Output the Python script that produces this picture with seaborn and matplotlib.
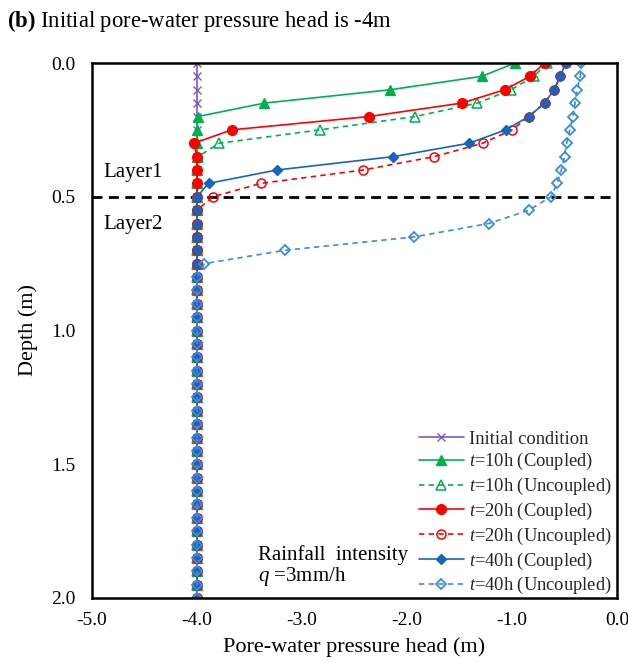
import matplotlib
matplotlib.use("Agg")
import matplotlib.pyplot as plt
import seaborn as sns

sns.set_theme(style="white")
plt.rcParams['font.family'] = ['Liberation Serif', 'DejaVu Serif']
plt.rcParams['mathtext.fontset'] = 'custom'
plt.rcParams['mathtext.rm'] = 'Liberation Serif'
plt.rcParams['mathtext.it'] = 'Liberation Serif:italic'
plt.rcParams['mathtext.bf'] = 'Liberation Serif:bold'

depth = [0.00, 0.05, 0.10, 0.15, 0.20, 0.25, 0.30, 0.35, 0.40, 0.45,
         0.50, 0.55, 0.60, 0.65, 0.70, 0.75, 0.80, 0.85, 0.90, 0.95,
         1.00, 1.05, 1.10, 1.15, 1.20, 1.25, 1.30, 1.35, 1.40, 1.45,
         1.50, 1.55, 1.60, 1.65, 1.70, 1.75, 1.80, 1.85, 1.90, 1.95, 2.00]

initial = [
    -4.0, -4.0, -4.0, -4.0, -4.0, -4.0, -4.0, -4.0, -4.0, -4.0,
    -4.0, -4.0, -4.0, -4.0, -4.0, -4.0, -4.0, -4.0, -4.0, -4.0,
    -4.0, -4.0, -4.0, -4.0, -4.0, -4.0, -4.0, -4.0, -4.0, -4.0,
    -4.0, -4.0, -4.0, -4.0, -4.0, -4.0, -4.0, -4.0, -4.0, -4.0, -4.0]

t10_coupled = [
    -0.97, -1.29, -2.16, -3.36, -3.99, -4.0, -4.0, -4.0, -4.0, -4.0,
    -4.0, -4.0, -4.0, -4.0, -4.0, -4.0, -4.0, -4.0, -4.0, -4.0,
    -4.0, -4.0, -4.0, -4.0, -4.0, -4.0, -4.0, -4.0, -4.0, -4.0,
    -4.0, -4.0, -4.0, -4.0, -4.0, -4.0, -4.0, -4.0, -4.0, -4.0, -4.0]

t10_uncoupled = [
    -0.67, -0.79, -1.01, -1.33, -1.92, -2.83, -3.79, -3.99, -4.0, -4.0,
    -4.0, -4.0, -4.0, -4.0, -4.0, -4.0, -4.0, -4.0, -4.0, -4.0,
    -4.0, -4.0, -4.0, -4.0, -4.0, -4.0, -4.0, -4.0, -4.0, -4.0,
    -4.0, -4.0, -4.0, -4.0, -4.0, -4.0, -4.0, -4.0, -4.0, -4.0, -4.0]

t20_coupled = [
    -0.69, -0.83, -1.07, -1.48, -2.36, -3.67, -4.03, -4.0, -4.0, -4.0,
    -4.0, -4.0, -4.0, -4.0, -4.0, -4.0, -4.0, -4.0, -4.0, -4.0,
    -4.0, -4.0, -4.0, -4.0, -4.0, -4.0, -4.0, -4.0, -4.0, -4.0,
    -4.0, -4.0, -4.0, -4.0, -4.0, -4.0, -4.0, -4.0, -4.0, -4.0, -4.0]

t20_uncoupled = [
    -0.49, -0.54, -0.60, -0.69, -0.84, -1.00, -1.28, -1.74, -2.42, -3.39,
    -3.85, -4.0, -4.0, -4.0, -4.0, -4.0, -4.0, -4.0, -4.0, -4.0,
    -4.0, -4.0, -4.0, -4.0, -4.0, -4.0, -4.0, -4.0, -4.0, -4.0,
    -4.0, -4.0, -4.0, -4.0, -4.0, -4.0, -4.0, -4.0, -4.0, -4.0, -4.0]

t40_coupled = [
    -0.49, -0.54, -0.60, -0.69, -0.84, -1.06, -1.41, -2.13, -3.24, -3.89,
    -4.0, -4.0, -4.0, -4.0, -4.0, -4.0, -4.0, -4.0, -4.0, -4.0,
    -4.0, -4.0, -4.0, -4.0, -4.0, -4.0, -4.0, -4.0, -4.0, -4.0,
    -4.0, -4.0, -4.0, -4.0, -4.0, -4.0, -4.0, -4.0, -4.0, -4.0, -4.0]

t40_uncoupled = [
    -0.34, -0.35, -0.38, -0.40, -0.42, -0.45, -0.48, -0.50, -0.53, -0.57,
    -0.63, -0.84, -1.22, -1.93, -3.16, -3.93, -4.0, -4.0, -4.0, -4.0,
    -4.0, -4.0, -4.0, -4.0, -4.0, -4.0, -4.0, -4.0, -4.0, -4.0,
    -4.0, -4.0, -4.0, -4.0, -4.0, -4.0, -4.0, -4.0, -4.0, -4.0, -4.0]

labels = ["Initial condition",
          "$t$=10h (Coupled)", "$t$=10h (Uncoupled)",
          "$t$=20h (Coupled)", "$t$=20h (Uncoupled)",
          "$t$=40h (Coupled)", "$t$=40h (Uncoupled)"]
xticks = [-5.0, -4.0, -3.0, -2.0, -1.0, 0.0]
yticks = [0.0, 0.5, 1.0, 1.5, 2.0]

fig = plt.figure(figsize=(6.28, 6.63), dpi=100)
ax = fig.add_axes([92/628, 1-598/663, 525/628, 535/663])

series = [initial, t10_coupled, t10_uncoupled, t20_coupled, t20_uncoupled,
          t40_coupled, t40_uncoupled]
dash = (0, (3.2, 2.6))
styles = [
    dict(color="#8257C6", marker="x", ls="-", ms=6, mfc="#8257C6", mew=1.0),
    dict(color="#00B050", marker="^", ls="-", ms=7, mfc="#00B050", mew=1.0),
    dict(color="#00B050", marker="^", ls=dash, ms=7, mfc="none", mew=1.1),
    dict(color="#FF0000", marker="o", ls="-", ms=7, mfc="#FF0000", mew=1.0),
    dict(color="#FF0000", marker="o", ls=dash, ms=6.5, mfc="none", mew=1.1),
    dict(color="#1565C0", marker="D", ls="-", ms=5.5, mfc="#1565C0", mew=1.0),
    dict(color="#3A8DDE", marker="D", ls=dash, ms=5.5, mfc="none", mew=1.3),
]
for vals, lab, st in zip(series, labels, styles):
    sns.lineplot(x=vals, y=depth, sort=False, estimator=None, ax=ax,
                 color=st["color"], marker=st["marker"], linestyle=st["ls"],
                 markersize=st["ms"], markerfacecolor=st["mfc"],
                 markeredgecolor=st["color"], markeredgewidth=st["mew"],
                 linewidth=1.2, label=lab)

ax.axhline(0.5, color="black", linestyle=(0, (3.6, 2.3)), linewidth=2.0, zorder=1)

ax.set_xlim(-5.0, 0.0)
ax.set_ylim(2.0, 0.0)
ax.set_xticks(xticks)
ax.set_yticks(yticks)
ax.set_xticklabels([f"{v:.1f}" for v in xticks])
ax.set_yticklabels([f"{v:.1f}" for v in yticks])
ax.tick_params(axis="both", direction="in", length=5, width=1.5, labelsize=14,
               colors="black", pad=10)
ax.tick_params(axis="y", length=0, pad=12)
for sp in ax.spines.values():
    sp.set_color("black")
    sp.set_linewidth(1.8)

ax.set_xlabel("Pore-water pressure head (m)", fontsize=16, color="black", labelpad=6)
ax.set_ylabel("Depth (m)", fontsize=16, color="black", labelpad=9)

ax.text(-4.89, 0.41, "Layer1", fontsize=15, va="center", ha="left", color="black")
ax.text(-4.89, 0.605, "Layer2", fontsize=15, va="center", ha="left", color="black")
ax.text(-3.42, 1.84, "Rainfall  intensity", fontsize=15, va="center", ha="left", color="black")
ax.text(-3.42, 1.92, "$q$ =3mm/h", fontsize=15, va="center", ha="left", color="black")

leg = ax.legend(loc="lower right", bbox_to_anchor=(0.997, -0.004), frameon=False,
                fontsize=13.3, handlelength=2.4, handletextpad=0.3,
                labelspacing=0.2, borderaxespad=0.0, borderpad=0.2)

fig.text(7/628, 1-21/663, r"$\mathbf{(b)}$ Initial pore-water pressure head is -4m",
         fontsize=16.3, va="center", ha="left", color="black")

fig.savefig("out.png", dpi=100)
